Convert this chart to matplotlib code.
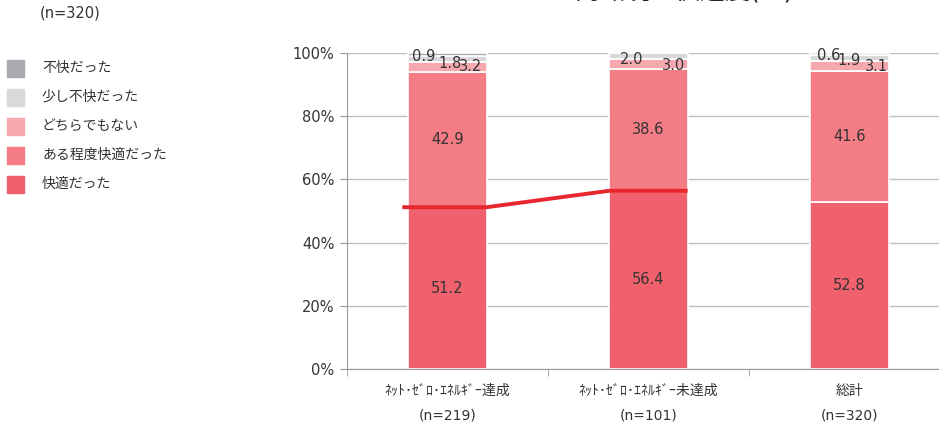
import matplotlib.pyplot as plt
from matplotlib.patches import Rectangle
import numpy as np

# 数字は DejaVu（Verdana風）、日本語は Noto Sans CJK JP
plt.rcParams['font.family'] = ['DejaVu Sans', 'Noto Sans CJK JP']

# データ
groups = ['ﾈｯﾄ･ｾﾞﾛ･ｴﾈﾙｷﾞｰ達成\n(n=219)', 'ﾈｯﾄ･ｾﾞﾛ･ｴﾈﾙｷﾞｰ未達成\n(n=101)', '総計\n(n=320)']
cats = ['快適だった', 'ある程度快適だった', 'どちらでもない', '少し不快だった', '不快だった']
kaiteki = [51.2, 56.4, 52.8]
aru = [42.9, 38.6, 41.6]
dochira = [3.2, 3.0, 3.1]
sukoshi = [1.8, 2.0, 1.9]
fukai = [0.9, 0.0, 0.6]
colors = ['#F0616D', '#F47C85', '#F7A7AE', '#D9D9DB', '#A9A9AF']
title = '室内環境の快適度(%)'
n_total = '(n=320)'

series = [kaiteki, aru, dochira, sukoshi, fukai]
txtc = '#333333'

fig = plt.figure(figsize=(9.39, 4.30), dpi=100)
ax = fig.add_axes([347/939, 1-369/430, 603/939, 316/430])

x = np.arange(len(groups))
w = 0.39
bottom = np.zeros(len(groups))
for vals, c in zip(series, colors):
    ax.bar(x, vals, w, bottom=bottom, color=c, edgecolor='white', linewidth=1.2, zorder=2)
    bottom += np.array(vals)

# 大きい区分のラベル（中央）
for i in range(len(groups)):
    ax.text(x[i], kaiteki[i] / 2, f'{kaiteki[i]:.1f}', ha='center', va='center', fontsize=10.5, color=txtc, zorder=4)
    ax.text(x[i], kaiteki[i] + aru[i] / 2, f'{aru[i]:.1f}', ha='center', va='center', fontsize=10.5, color=txtc, zorder=4)

# 小さい区分のラベル（ずらして配置）
small_dx = {'fukai': [-0.12, -0.11, -0.105], 'sukoshi': [0.015, -0.085, 0.0], 'dochira': [0.115, 0.125, 0.135]}
small_y = {'fukai': [99.0, 99.0, 99.3], 'sukoshi': [96.8, 98.1, 97.5], 'dochira': [95.6, 96.2, 95.6]}
for key, vals in [('fukai', fukai), ('sukoshi', sukoshi), ('dochira', dochira)]:
    for i in range(len(groups)):
        if vals[i] <= 0:
            continue
        ax.text(x[i] + small_dx[key][i], small_y[key][i], f'{vals[i]:.1f}', ha='center', va='center',
                fontsize=10.5, color=txtc, zorder=4)

# 快適だったの線
lx, ly = [], []
for i in range(2):
    lx += [x[i] - w / 2, x[i] + w / 2]
    ly += [kaiteki[i], kaiteki[i]]
lx[0] -= 0.03
ax.plot(lx, ly, color='#E8262D', linewidth=2.8, zorder=3, solid_capstyle='butt')

ax.set_xlim(-0.5, 2.5)
ax.set_ylim(0, 100)
ax.set_yticks([0, 20, 40, 60, 80, 100])
ax.set_yticklabels(['0%', '20%', '40%', '60%', '80%', '100%'], fontsize=10.5, color=txtc)
ax.yaxis.grid(True, color='#BFBFBF', linewidth=1)
ax.set_axisbelow(True)
ax.set_xticks(x)
ax.set_xticklabels(groups, fontsize=10, color=txtc, linespacing=1.9)
ax.tick_params(axis='x', length=0, pad=11)
ax.set_xticks([-0.5, 0.5, 1.5, 2.5], minor=True)
ax.tick_params(axis='x', which='minor', length=5, color='#999999')
ax.tick_params(axis='y', length=5, color='#999999', pad=4)
for s in ['top', 'right']:
    ax.spines[s].set_visible(False)
for s in ['left', 'bottom']:
    ax.spines[s].set_color('#999999')

# タイトル（上端で切れている）
fig.text(672/939, 1.0 + 1/430, title, ha='center', va='baseline', fontsize=18, color='#222222')

# 凡例
fig.text(40/939, 1 - 13/430, n_total, ha='left', va='center', fontsize=10.5, color=txtc)
leg_y = [68, 97, 126, 155, 184]
for lab, c, yy in zip(cats[::-1], colors[::-1], leg_y):
    fig.patches.append(Rectangle((7/939, 1 - (yy + 9)/430), 17/939, 17/430, color=c, transform=fig.transFigure))
    fig.text(42/939, 1 - yy/430, lab, ha='left', va='center', fontsize=10, color=txtc)

fig.savefig('out.png', dpi=100)
